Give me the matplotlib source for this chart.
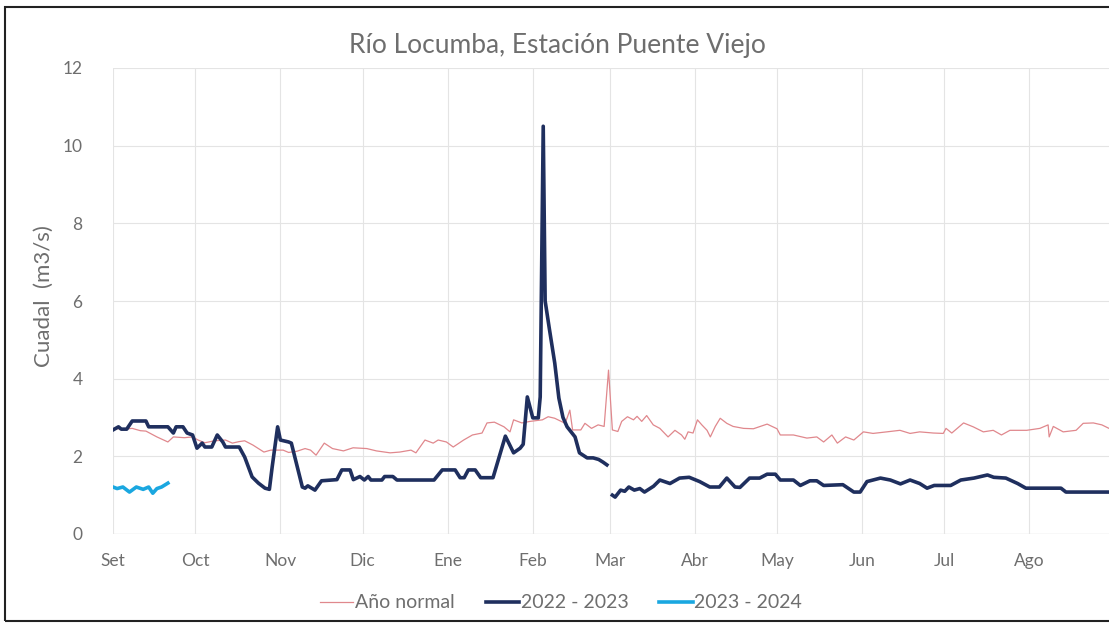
import numpy as np
from matplotlib import pyplot as plt
from matplotlib.patches import Rectangle

plt.rcParams['font.family'] = ['Lato', 'DejaVu Sans']

# month labels and start day (day 0 = 1 Set)
months = ['Set', 'Oct', 'Nov', 'Dic', 'Ene', 'Feb', 'Mar', 'Abr', 'May', 'Jun', 'Jul', 'Ago']
month_day = [0, 30, 61, 91, 122, 153, 181, 212, 242, 273, 303, 334]

# Año normal
normal_day = [0, 4, 7, 10, 12, 16, 20, 22, 26, 29, 31, 33.5, 37, 41, 43.5, 46, 48, 51, 55, 57.5,
              62, 64, 67, 70, 72, 74, 77, 80, 84, 87.5, 92.5, 96, 101, 104.5, 108.6, 110.4, 113.7,
              116.7, 118.5, 121.5, 124, 127.8, 131, 134.5, 136.3, 139, 142.5, 144.7, 146, 149, 152,
              156.5, 158.6, 161, 164.8, 166.5, 167.5, 170.5, 172, 174.4, 176.8, 179, 180.6, 182, 184,
              185.4, 187.5, 189.7, 191, 192.7, 194.5, 196.9, 199.3, 202.3, 204.8, 207.2, 208.4, 209.6,
              211.4, 213, 214.6, 216.5, 217.7, 219.5, 221.3, 223.7, 226, 229.8, 233.4, 238.4, 242,
              243.2, 248, 252.9, 256.5, 259, 262, 264, 267, 270, 273.5, 277, 282, 286.8, 290.5, 294,
              299, 302.6, 303.6, 305.7, 310, 313.5, 317.2, 320.8, 323.8, 326.9, 333, 337.8, 340.8,
              341.2, 342.7, 346.3, 351, 353.6, 357.3, 360.4, 363]
normal_q = [2.72, 2.70, 2.72, 2.66, 2.65, 2.50, 2.37, 2.50, 2.48, 2.50, 2.42, 2.35, 2.40, 2.42, 2.34,
            2.38, 2.40, 2.29, 2.11, 2.16, 2.16, 2.10, 2.13, 2.20, 2.16, 2.03, 2.34, 2.20, 2.14, 2.22,
            2.20, 2.14, 2.09, 2.11, 2.16, 2.09, 2.42, 2.34, 2.42, 2.37, 2.24, 2.42, 2.55, 2.60, 2.86,
            2.88, 2.76, 2.63, 2.94, 2.86, 2.90, 2.94, 3.02, 2.98, 2.85, 3.19, 2.68, 2.68, 2.85, 2.72,
            2.81, 2.77, 4.22, 2.68, 2.64, 2.90, 3.02, 2.94, 3.03, 2.90, 3.05, 2.81, 2.72, 2.50, 2.67,
            2.55, 2.44, 2.63, 2.60, 2.94, 2.81, 2.67, 2.50, 2.77, 2.98, 2.85, 2.77, 2.72, 2.71, 2.83,
            2.71, 2.55, 2.55, 2.47, 2.50, 2.37, 2.55, 2.34, 2.50, 2.42, 2.63, 2.59, 2.63, 2.67, 2.59,
            2.63, 2.60, 2.59, 2.72, 2.60, 2.86, 2.76, 2.63, 2.67, 2.55, 2.67, 2.67, 2.72, 2.81, 2.50,
            2.77, 2.63, 2.67, 2.85, 2.86, 2.81, 2.72]

# 2022 - 2023 (gap at end of February)
y22_day = [0, 2, 3, 5, 7, 12, 13, 20, 22, 23, 25.5, 27, 29, 30.6, 32.5, 33.5, 36, 38, 40, 41, 46, 48,
           50.7, 53, 55.4, 57, 58, 60, 61, 64, 65, 69, 70, 71, 73.6, 76, 81.6, 83.4, 86.4, 87.6, 90,
           91.6, 93, 94, 98, 99, 102, 103.5, 117, 120, 124.7, 126.5, 128, 129.5, 132, 134, 138.5,
           143, 146, 148.4, 149.5, 151, 153, 155, 155.7, 156.8, 157.5, 159, 161, 162.5, 164, 165.5,
           168.4, 170, 172.8, 175, 177, 178.6, 180, 181, 182, 183, 185, 186.5, 188, 190, 192, 193.7,
           197, 199.3, 203, 206.5, 210, 213.8, 217.5, 221, 223.7, 226.7, 228.5, 232, 235.7, 238.4,
           241.4, 243.2, 248, 250.5, 254, 256.5, 259, 266, 270, 272.3, 274.8, 279.7, 283.3, 287,
           290.5, 294, 296.7, 299.3, 305.3, 309, 313.8, 318.7, 321, 325.4, 329.7, 332.7, 345.5,
           347.3, 363]
y22_q = [2.68, 2.76, 2.70, 2.70, 2.91, 2.91, 2.76, 2.76, 2.60, 2.76, 2.76, 2.60, 2.55, 2.21, 2.34,
         2.24, 2.24, 2.55, 2.37, 2.24, 2.24, 1.98, 1.47, 1.31, 1.18, 1.15, 1.72, 2.76, 2.42, 2.37,
         2.34, 1.21, 1.18, 1.24, 1.13, 1.37, 1.40, 1.65, 1.65, 1.40, 1.48, 1.39, 1.48, 1.39, 1.39,
         1.48, 1.48, 1.39, 1.39, 1.65, 1.65, 1.45, 1.45, 1.65, 1.65, 1.45, 1.45, 2.52, 2.09, 2.21,
         2.31, 3.53, 2.99, 2.99, 3.53, 10.5, 6.0, 5.3, 4.4, 3.5, 3.0, 2.76, 2.50, 2.09, 1.96, 1.96,
         1.92, 1.85, 1.78, np.nan, 1.00, 0.95, 1.13, 1.10, 1.21, 1.13, 1.17, 1.08, 1.23, 1.39, 1.30,
         1.44, 1.46, 1.35, 1.21, 1.21, 1.44, 1.21, 1.20, 1.44, 1.44, 1.54, 1.54, 1.39, 1.39, 1.25,
         1.37, 1.37, 1.25, 1.27, 1.08, 1.08, 1.35, 1.44, 1.39, 1.29, 1.39, 1.30, 1.18, 1.25, 1.25,
         1.39, 1.44, 1.52, 1.46, 1.44, 1.30, 1.18, 1.18, 1.08, 1.08]

# 2023 - 2024
y23_day = [0, 1.5, 3.6, 6, 8.5, 11, 13, 14.5, 16, 17.7, 20]
y23_q = [1.21, 1.17, 1.21, 1.08, 1.21, 1.15, 1.21, 1.05, 1.17, 1.21, 1.31]

txt = '#6E6E6E'

fig = plt.figure(figsize=(11.09, 6.27), dpi=100)
ax = fig.add_axes([113 / 1109, 93 / 627, 996 / 1109, 466 / 627])

ax.plot(normal_day, normal_q, color='#E0888D', lw=0.9, label='Año normal')
ax.plot(y22_day, y22_q, color='#1F2F5E', lw=2.6, label='2022 - 2023')
ax.plot(y23_day, y23_q, color='#1AA7E0', lw=2.6, label='2023 - 2024')

ax.set_xlim(0, 363)
ax.set_ylim(0, 12)
ax.set_yticks(range(0, 13, 2))
ax.set_xticks(month_day)
ax.set_xticklabels(months)
ax.grid(True, color='#E4E4E4', lw=0.8)
ax.set_axisbelow(True)
for s in ax.spines.values():
    s.set_visible(False)
ax.axhline(0, color='#D9D9D9', lw=0.9, zorder=0)
ax.tick_params(length=0, colors=txt, labelsize=12.5)
ax.tick_params(axis='x', pad=14)
ax.tick_params(axis='y', pad=22)

fig.text(557 / 1109, 1 - 45 / 627, 'Río Locumba, Estación Puente Viejo', ha='center', va='center',
         fontsize=19, color=txt)
fig.text(44 / 1109, 1 - 296 / 627, 'Cuadal  (m3/s)', rotation=90, ha='center', va='center',
         fontsize=16, color=txt)

ax.legend(loc='center', bbox_to_anchor=(561 / 1109, 1 - 603 / 627), bbox_transform=fig.transFigure,
          ncol=3, frameon=False, fontsize=14, labelcolor=txt, handlelength=1.7,
          handletextpad=0.1, columnspacing=1.6)

fig.patches.append(Rectangle((5 / 1109, 6 / 627), 1.2, 1 - 13 / 627, transform=fig.transFigure,
                             fill=False, edgecolor='#222222', lw=1.5))

fig.savefig('out.png', dpi=100)
